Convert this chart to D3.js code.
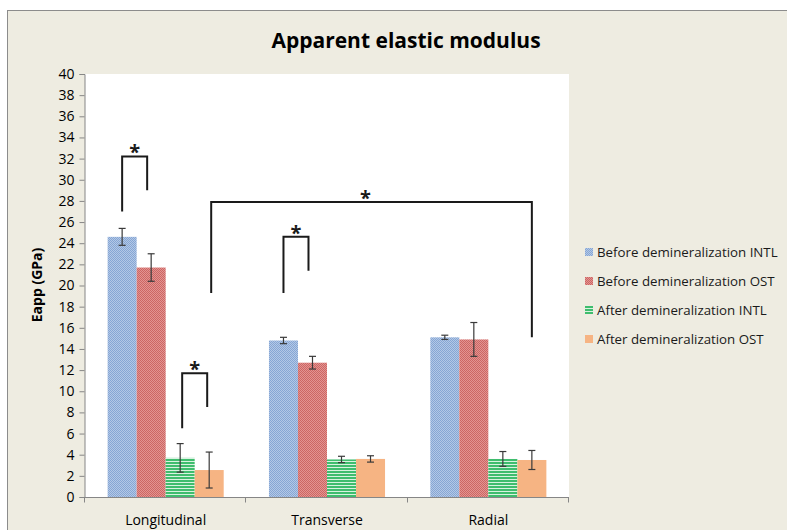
<!DOCTYPE html>
<html>
<head>
<meta charset="utf-8">
<script src="https://cdn.jsdelivr.net/npm/d3@7/dist/d3.min.js"></script>
<style>
  html, body { margin: 0; padding: 0; background: #ffffff; }
  svg { display: block; }
  text { font-family: "Open Sans", "Noto Sans", sans-serif; }
</style>
</head>
<body>
<svg id="chart" width="787" height="530"></svg>
<script>
// Apparent elastic modulus (GPa), mean and error per direction
const categories = ["Longitudinal", "Transverse", "Radial"];
const seriesNames = [
  "Before demineralization INTL",
  "Before demineralization OST",
  "After demineralization INTL",
  "After demineralization OST"
];
const beforeINTL = [24.6, 14.8, 15.1];
const beforeOST  = [21.7, 12.7, 14.9];
const afterINTL  = [3.7, 3.55, 3.6];
const afterOST   = [2.55, 3.6, 3.5];
const errBeforeINTL = [0.8, 0.3, 0.2];
const errBeforeOST  = [1.3, 0.6, 1.6];
const errAfterINTL  = [1.35, 0.3, 0.7];
const errAfterOST   = [1.7, 0.3, 0.9];
const yTicks = d3.range(0, 41, 2);

// Significance brackets: [category, series] of each leg and heights in GPa
const brackets = [
  { from: [0, 0], to: [0, 1], leftLow: 27.0, rightLow: 29.0, top: 32.2, dxL: 0, dxR: -4, starDx: 0 },
  { from: [0, 2], to: [0, 3], leftLow: 6.5, rightLow: 8.5, top: 11.7, dxL: 2, dxR: -2, starDx: 0 },
  { from: [1, 0], to: [1, 1], leftLow: 19.3, rightLow: 21.4, top: 24.6, dxL: 0, dxR: -4, starDx: 0 },
  { from: [0, 3], to: [2, 3], leftLow: 19.3, rightLow: 15.1, top: 27.9, dxL: 2, dxR: 0, starDx: -6 }
];

const values = [beforeINTL, beforeOST, afterINTL, afterOST];
const errors = [errBeforeINTL, errBeforeOST, errAfterINTL, errAfterOST];

const svg = d3.select("#chart");
const plot = { left: 85, right: 569, top: 74, bottom: 497 };

// Chart background and frame
svg.append("rect").attr("x", 7.5).attr("y", 10.5).attr("width", 800).attr("height", 540)
  .attr("fill", "#eeece1").attr("stroke", "#8c8c8c").attr("stroke-width", 1);

// Fill patterns for the four series
const defs = svg.append("defs");
function dotted(id, base, dot) {
  const p = defs.append("pattern").attr("id", id).attr("patternUnits", "userSpaceOnUse")
    .attr("width", 2).attr("height", 2);
  p.append("rect").attr("width", 2).attr("height", 2).attr("fill", base);
  p.append("rect").attr("width", 1).attr("height", 1).attr("fill", dot);
  p.append("rect").attr("x", 1).attr("y", 1).attr("width", 1).attr("height", 1).attr("fill", dot);
}
dotted("pBlue", "#b3c8e6", "#86a6d4");
dotted("pRed", "#e39491", "#cc6664");
const pg = defs.append("pattern").attr("id", "pGreen").attr("patternUnits", "userSpaceOnUse")
  .attr("width", 4).attr("height", 3);
pg.append("rect").attr("width", 4).attr("height", 3).attr("fill", "#3fbd6e");
pg.append("rect").attr("y", 2).attr("width", 4).attr("height", 1).attr("fill", "#d8f2e0");
defs.append("pattern").attr("id", "pOrange").attr("patternUnits", "userSpaceOnUse")
  .attr("width", 4).attr("height", 4)
  .append("rect").attr("width", 4).attr("height", 4).attr("fill", "#f6b483");
const fills = ["url(#pBlue)", "url(#pRed)", "url(#pGreen)", "url(#pOrange)"];

// Plot area
svg.append("rect").attr("x", plot.left).attr("y", plot.top)
  .attr("width", plot.right - plot.left).attr("height", plot.bottom - plot.top)
  .attr("fill", "#ffffff");

const x0 = d3.scaleBand().domain(categories).range([plot.left, plot.right]).paddingInner(0).paddingOuter(0);
const x1 = d3.scaleBand().domain(d3.range(4)).range([0, x0.bandwidth()]).paddingOuter(0.78).paddingInner(0);
const y = d3.scaleLinear().domain([0, 40]).range([plot.bottom, plot.top]);

// Y axis
const yAxis = svg.append("g").attr("transform", `translate(${plot.left - 0.5},0)`)
  .call(d3.axisLeft(y).tickValues(yTicks).tickSize(5).tickPadding(5).tickFormat(d3.format("d")));
yAxis.select(".domain").attr("stroke", "#868686");
yAxis.selectAll(".tick line").attr("stroke", "#868686");
yAxis.selectAll(".tick text").attr("fill", "#000").style("font-size", "14px")
  .style("font-family", "'Open Sans', sans-serif");

// X axis with category dividers
const xAxisG = svg.append("g").attr("transform", `translate(0,${plot.bottom + 0.5})`);
xAxisG.append("line").attr("x1", plot.left - 0.5).attr("x2", plot.right).attr("stroke", "#868686");
const dividers = categories.map(c => x0(c)).concat([x0(categories[2]) + x0.bandwidth()]);
xAxisG.selectAll("line.div").data(dividers).enter().append("line").attr("class", "div")
  .attr("x1", d => Math.round(d) - 0.5).attr("x2", d => Math.round(d) - 0.5)
  .attr("y1", 0).attr("y2", 5).attr("stroke", "#868686");
xAxisG.selectAll("text").data(categories).enter().append("text")
  .attr("x", d => x0(d) + x0.bandwidth() / 2).attr("y", 27)
  .attr("text-anchor", "middle").style("font-size", "14px").attr("fill", "#000")
  .text(d => d);

// Bars
const rows = [];
categories.forEach((c, ci) => values.forEach((s, si) => rows.push({ c, ci, si, v: s[ci], e: errors[si][ci] })));
const barX = d => x0(d.c) + x1(d.si);
svg.append("g").selectAll("rect").data(rows).enter().append("rect")
  .attr("x", barX).attr("width", x1.bandwidth())
  .attr("y", d => y(d.v)).attr("height", d => y(0) - y(d.v))
  .attr("fill", d => fills[d.si]);

// Error bars
const eg = svg.append("g").attr("stroke", "#3a3a3a").attr("stroke-width", 1.2);
rows.forEach(d => {
  const cx = barX(d) + x1.bandwidth() / 2;
  eg.append("line").attr("x1", cx).attr("x2", cx).attr("y1", y(d.v + d.e)).attr("y2", y(d.v - d.e));
  [d.v + d.e, d.v - d.e].forEach(v =>
    eg.append("line").attr("x1", cx - 3.5).attr("x2", cx + 3.5).attr("y1", y(v)).attr("y2", y(v)));
});

// Significance brackets
const center = ([ci, si]) => x0(categories[ci]) + x1(si) + x1.bandwidth() / 2;
const bg = svg.append("g");
brackets.forEach(b => {
  const xl = center(b.from) + b.dxL, xr = center(b.to) + b.dxR;
  bg.append("path")
    .attr("d", `M${xl},${y(b.leftLow)}V${y(b.top)}H${xr}V${y(b.rightLow)}`)
    .attr("fill", "none").attr("stroke", "#1a1a1a").attr("stroke-width", 2);
  bg.append("text").attr("x", (xl + xr) / 2 + b.starDx).attr("y", y(b.top) + 3)
    .attr("text-anchor", "middle").style("font-size", "20px").style("font-weight", "bold")
    .attr("fill", "#1a1a1a").text("*");
});

// Title
svg.append("text").attr("x", 406).attr("y", 48).attr("text-anchor", "middle")
  .style("font-size", "21px").style("font-weight", "bold").attr("fill", "#000")
  .text("Apparent elastic modulus");

// Y axis title
svg.append("text").attr("transform", "translate(42,285) rotate(-90)")
  .attr("text-anchor", "middle").style("font-size", "14px").style("font-weight", "bold")
  .attr("fill", "#000").text("Eapp (GPa)");

// Legend
const lg = svg.append("g");
seriesNames.forEach((n, i) => {
  const ly = 252 + i * 29;
  lg.append("rect").attr("x", 585).attr("y", ly - 4).attr("width", 8).attr("height", 8).attr("fill", fills[i]);
  lg.append("text").attr("x", 597).attr("y", ly + 5).style("font-size", "13.3px")
    .attr("fill", "#1a1a1a").text(n);
});
</script>
</body>
</html>
